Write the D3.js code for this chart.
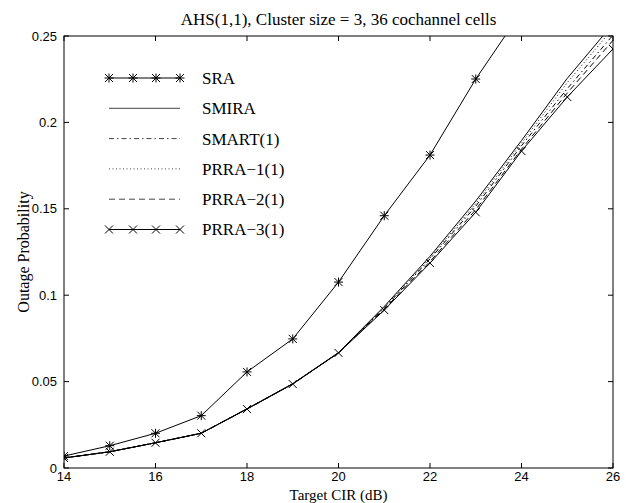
<!DOCTYPE html>
<html><head><meta charset="utf-8">
<script src="https://cdn.jsdelivr.net/npm/d3@7"></script>
<style>body{margin:0;background:#fff}svg{display:block}</style>
</head><body>
<svg id="c" width="626" height="503"></svg>
<script>
const cir = [14,15,16,17,18,19,20,21,22,23,24,25,26];
const SRA    = [0.0069,0.0129,0.0201,0.0303,0.0556,0.0747,0.1076,0.146,0.1811,0.2251,0.264];
const SMIRA  = [0.0058,0.0094,0.0146,0.0201,0.0343,0.0488,0.0668,0.0935,0.1225,0.1545,0.1895,0.2255,0.257];
const SMART1 = [0.0058,0.0094,0.0146,0.0201,0.0342,0.0487,0.0667,0.0925,0.121,0.1515,0.1865,0.2195,0.2505];
const PRRA1  = [0.0058,0.0094,0.0146,0.0201,0.0342,0.0487,0.0667,0.093,0.1215,0.153,0.188,0.223,0.2545];
const PRRA2  = [0.0058,0.0094,0.0146,0.0201,0.0341,0.0486,0.0666,0.092,0.1195,0.1495,0.1845,0.217,0.2475];
const PRRA3  = [0.0058,0.0094,0.0146,0.0201,0.0341,0.0486,0.0666,0.0914,0.1186,0.148,0.1834,0.2147,0.2425];
const xTicks = [14,16,18,20,22,24,26];
const yTicks = [0,0.05,0.1,0.15,0.2,0.25];
const yTickLabels = ["0","0.05","0.1","0.15","0.2","0.25"];
const seriesNames = ["SRA","SMIRA","SMART(1)","PRRA\u22121(1)","PRRA\u22122(1)","PRRA\u22123(1)"];
const title = "AHS(1,1), Cluster size = 3, 36 cochannel cells";
const xLabel = "Target CIR (dB)";
const yLabel = "Outage Probability";

const L=64,R=613,T=36,B=468;
const svg=d3.select("#c");
const x=d3.scaleLinear().domain([14,26]).range([L,R]);
const y=d3.scaleLinear().domain([0,0.25]).range([B,T]);
const serif="'Liberation Serif','Times New Roman',serif";
const sans="'Liberation Sans',Arial,sans-serif";

svg.append("defs").append("clipPath").attr("id","clip")
  .append("rect").attr("x",L).attr("y",T).attr("width",R-L).attr("height",B-T);

const styles=[
  {data:SRA,dash:null,marker:"star"},
  {data:SMIRA,dash:null,marker:null},
  {data:SMART1,dash:"5,3,1.5,3",marker:null},
  {data:PRRA1,dash:"1,2.5",marker:null},
  {data:PRRA2,dash:"6,4",marker:null},
  {data:PRRA3,dash:null,marker:"x"}
];

function drawMarker(g,type,cx,cy){
  const s=4;
  if(type==="x"||type==="star"){
    g.append("path").attr("d",`M${cx-s},${cy-s}L${cx+s},${cy+s}M${cx-s},${cy+s}L${cx+s},${cy-s}`)
     .attr("stroke","#000").attr("stroke-width",1).attr("fill","none");
  }
  if(type==="star"){
    g.append("path").attr("d",`M${cx-s-0.5},${cy}L${cx+s+0.5},${cy}M${cx},${cy-s-0.5}L${cx},${cy+s+0.5}`)
     .attr("stroke","#000").attr("stroke-width",1).attr("fill","none");
  }
}

const plot=svg.append("g").attr("clip-path","url(#clip)");
const line=d3.line().x((d,i)=>x(cir[i])).y(d=>y(d));
styles.forEach(s=>{
  plot.append("path").datum(s.data).attr("d",line).attr("fill","none")
    .attr("stroke","#000").attr("stroke-width",1)
    .attr("stroke-dasharray",s.dash);
  if(s.marker){
    s.data.forEach((d,i)=>{ if(d<=0.25) drawMarker(plot,s.marker,x(cir[i]),y(d)); });
  }
});

// box
svg.append("rect").attr("x",L).attr("y",T).attr("width",R-L).attr("height",B-T)
  .attr("fill","none").attr("stroke","#000").attr("stroke-width",1);

// axes with inward ticks
const tl=5;
const ax=svg.append("g");
xTicks.forEach(t=>{
  ax.append("line").attr("x1",x(t)).attr("x2",x(t)).attr("y1",B).attr("y2",B-tl).attr("stroke","#000");
  ax.append("line").attr("x1",x(t)).attr("x2",x(t)).attr("y1",T).attr("y2",T+tl).attr("stroke","#000");
  ax.append("text").attr("x",x(t)).attr("y",481).attr("text-anchor","middle")
    .attr("font-family",sans).attr("font-size",13).text(t);
});
yTicks.forEach((t,i)=>{
  ax.append("line").attr("x1",L).attr("x2",L+tl).attr("y1",y(t)).attr("y2",y(t)).attr("stroke","#000");
  ax.append("line").attr("x1",R).attr("x2",R-tl).attr("y1",y(t)).attr("y2",y(t)).attr("stroke","#000");
  ax.append("text").attr("x",57).attr("y",y(t)).attr("dy","0.35em").attr("text-anchor","end")
    .attr("font-family",sans).attr("font-size",13).text(yTickLabels[i]);
});

svg.append("text").attr("x",(L+R)/2).attr("y",25).attr("text-anchor","middle")
  .attr("font-family",serif).attr("font-size",17).text(title);
svg.append("text").attr("x",(L+R)/2).attr("y",500).attr("text-anchor","middle")
  .attr("font-family",serif).attr("font-size",15).text(xLabel);
svg.append("text").attr("transform",`translate(29,${(T+B)/2}) rotate(-90)`).attr("text-anchor","middle")
  .attr("font-family",serif).attr("font-size",16).text(yLabel);

// legend
const lg=svg.append("g");
const lx1=109,lx2=180,ly0=78,ldy=30.3;
styles.forEach((s,i)=>{
  const yy=ly0+i*ldy;
  lg.append("line").attr("x1",lx1).attr("x2",lx2).attr("y1",yy).attr("y2",yy)
    .attr("stroke",s.marker?"#000":"#444").attr("stroke-width",1).attr("stroke-dasharray",s.dash);
  if(s.marker){
    [lx1,133,156,lx2].forEach(mx=>drawMarker(lg,s.marker,mx,yy));
  }
  lg.append("text").attr("x",202).attr("y",yy).attr("dy","0.35em")
    .attr("font-family",serif).attr("font-size",17).text(seriesNames[i]);
});
</script>
</body></html>
